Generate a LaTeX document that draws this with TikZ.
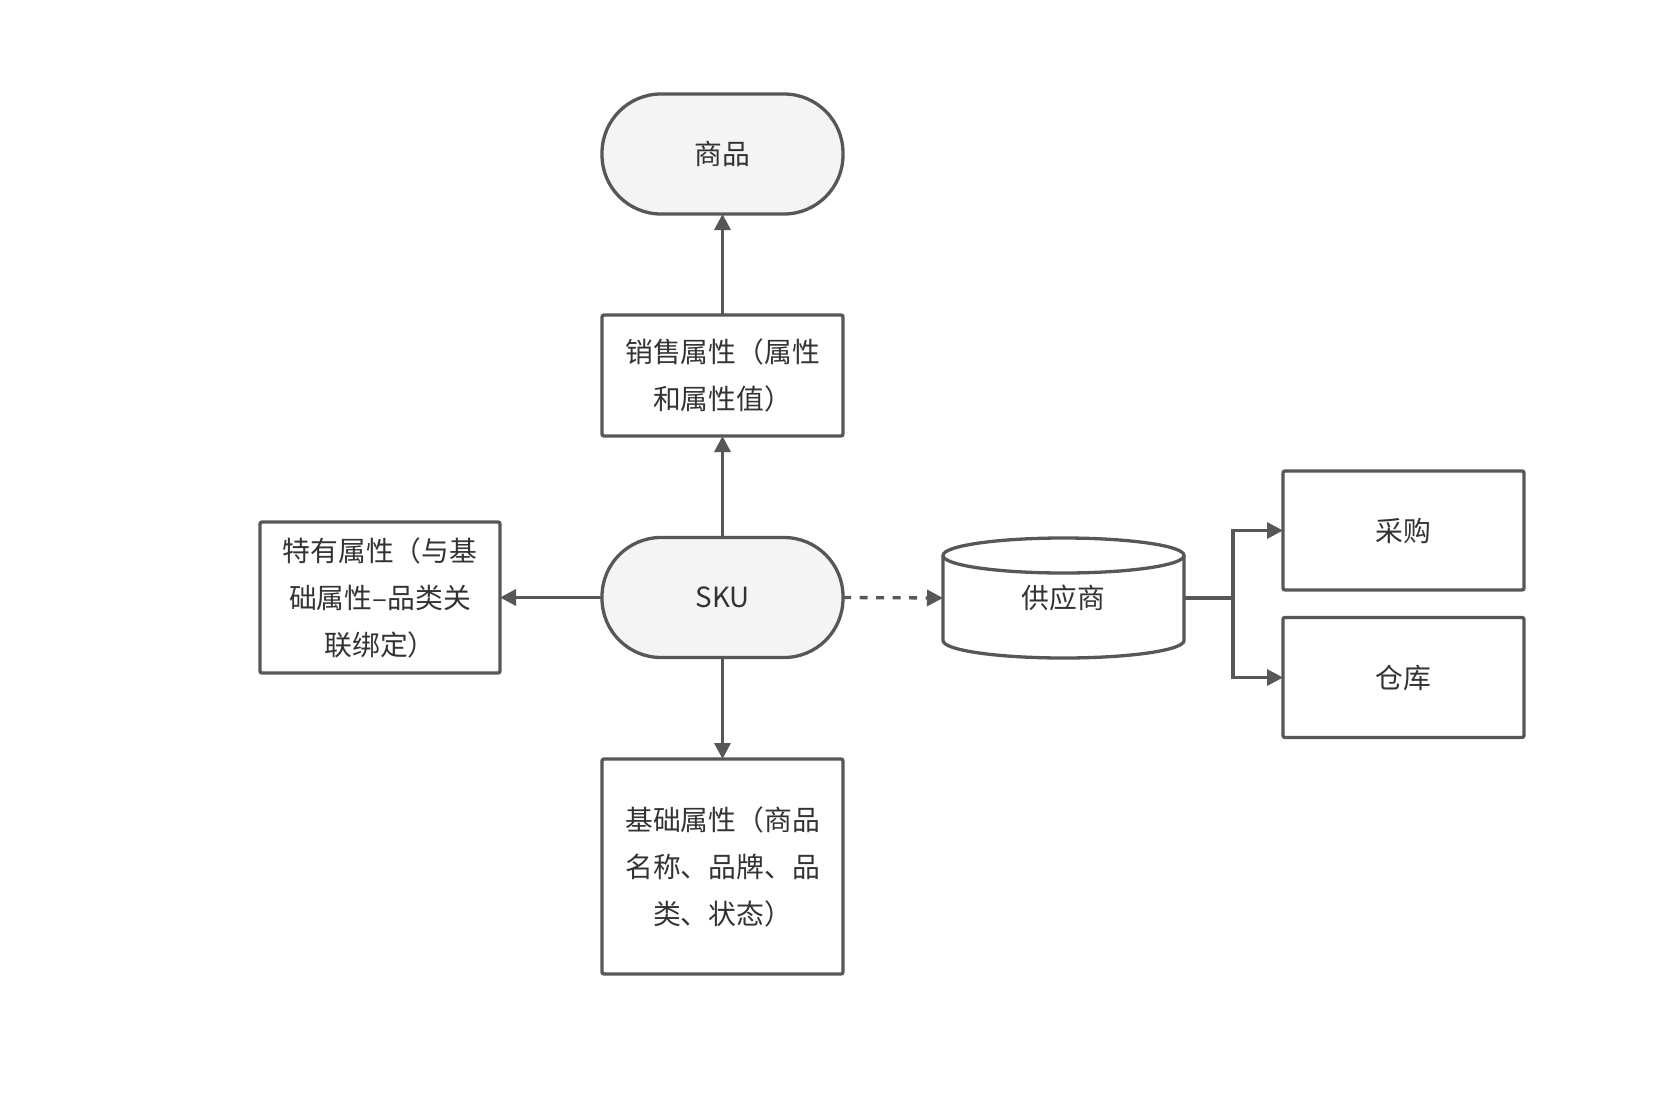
\documentclass[tikz,border=0pt]{standalone}
\usepackage{fontspec}
\setmainfont{Noto Sans CJK SC}
\usetikzlibrary{arrows.meta}
\definecolor{strokegray}{HTML}{575757}
\definecolor{fillgray}{HTML}{F4F4F4}
\definecolor{textgray}{HTML}{333333}
\tikzset{
  base/.style={draw=strokegray, line width=3.3pt, text=textgray, align=center,
    font=\fontsize{27.8}{47}\selectfont, inner sep=0pt, outer sep=0pt},
  terminal/.style={base, fill=fillgray, rounded corners=59pt, minimum width=241pt, minimum height=120pt},
  box/.style={base, fill=white, rounded corners=2pt, minimum width=241pt},
  conn/.style={draw=strokegray, line width=3.3pt},
  arr/.style={conn, -{Triangle[length=16pt,width=16pt]}},
  dotted arr/.style={arr, dash pattern=on 8pt off 8.5pt},
}
\begin{document}
\begin{tikzpicture}[x=1pt,y=-1pt]
\useasboundingbox (0,0) rectangle (1664,1116);
\node[terminal] (goods) at (722.5,154) {商品};
\node[box, minimum height=121pt] (sale) at (722.5,375.5) {销售属性（属性\\和属性值）};
\node[terminal] (sku) at (722.5,597.5) {SKU};
\node[box, minimum height=215pt] (basic) at (722.5,866.5) {基础属性（商品\\名称、品牌、品\\类、状态）};
\node[box, minimum width=240pt, minimum height=151pt] (special) at (380,597.5) {特有属性（与基\\础属性–品类关\\联绑定）};
% supplier cylinder
\fill[white] (943,555.5) -- (943,640.5) arc[start angle=180, end angle=0, x radius=120.5, y radius=17.5] -- (1184,555.5) arc[start angle=0, end angle=180, x radius=120.5, y radius=17.5] -- cycle;
\draw[conn, line join=round] (943,555.5) -- (943,640.5) arc[start angle=180, end angle=0, x radius=120.5, y radius=17.5] -- (1184,555.5);
\draw[conn] (1063.5,555.5) ellipse[x radius=120.5, y radius=17.5];
\node[base, draw=none, minimum width=241pt, minimum height=120pt] (sup) at (1063.5,598) {供应商};
\node[box, minimum height=119pt] (buy) at (1403.5,530.5) {采购};
\node[box, minimum height=120pt] (store) at (1403.5,677.5) {仓库};
\coordinate (j) at (1233,598);
% connectors
\draw[arr] (sale.north) -- (goods.south);
\draw[arr] (sku.north) -- (sale.south);
\draw[arr] (sku.south) -- (basic.north);
\draw[arr] (sku.west) -- (special.east);
\draw[dotted arr] (sku.east) -- (sup.west);
\draw[conn] (sup.east) -- (j);
\draw[arr, line join=miter] (j) |- (buy.west);
\draw[arr, line join=miter] (j) |- (store.west);
\end{tikzpicture}
\end{document}
